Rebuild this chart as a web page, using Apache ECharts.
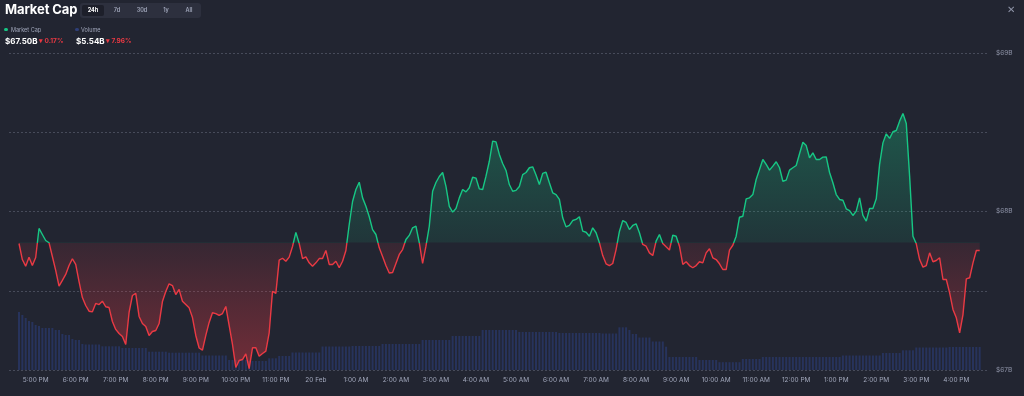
<!DOCTYPE html>
<html><head><meta charset="utf-8">
<script src="https://cdn.jsdelivr.net/npm/echarts@6/dist/echarts.min.js"></script>
<style>
html,body{margin:0;padding:0;background:#222531;width:1024px;height:396px;overflow:hidden;font-family:Inter,Roboto,sans-serif;}
#chart{position:absolute;left:0;top:0;width:1024px;height:396px;}
.abs{position:absolute;white-space:nowrap;}
#title{left:5px;top:1px;font-size:13px;font-weight:700;color:#fff;line-height:17px;letter-spacing:-0.1px;}
#tabs{left:80px;top:3px;width:121px;height:15px;background:#2d303e;border-radius:3px;}
.tab{position:absolute;top:2px;height:11px;line-height:11px;font-size:5.5px;color:#a1a7bb;text-align:center;font-weight:600;}
.tab.sel{background:#1d1f2a;color:#fff;border-radius:2px;font-weight:700;}
.lg{font-size:5.5px;color:#a1a7bb;line-height:8px;}
.dot{width:3.5px;height:3.5px;border-radius:50%;}
.val{font-size:8px;font-weight:700;color:#fff;line-height:10px;}
.chg{font-size:6.5px;font-weight:700;color:#ea3943;line-height:10px;}
#close{left:1007px;top:3px;font-size:10px;color:#8f94a8;line-height:12px;}
</style></head>
<body>
<div id="chart"></div>
<div class="abs" id="title">Market Cap</div>
<div class="abs" id="tabs">
  <div class="tab sel" style="left:2px;width:22px;">24h</div>
  <div class="tab" style="left:28px;width:18px;">7d</div>
  <div class="tab" style="left:52px;width:20px;">30d</div>
  <div class="tab" style="left:77px;width:18px;">1y</div>
  <div class="tab" style="left:100px;width:18px;">All</div>
</div>
<div class="abs dot" style="left:4px;top:27.5px;background:#16c784;"></div>
<div class="abs lg" style="left:11px;top:25.5px;">Market Cap</div>
<div class="abs dot" style="left:75px;top:27.5px;background:#2f3f78;"></div>
<div class="abs lg" style="left:81px;top:25.5px;">Volume</div>
<div class="abs val" style="left:5px;top:36px;">$67.50B</div>
<div class="abs chg" style="left:39px;top:36px;">&#9662; 0.17%</div>
<div class="abs val" style="left:76px;top:36px;">$5.54B</div>
<div class="abs chg" style="left:106px;top:36px;">&#9662; 7.96%</div>
<div class="abs" id="close">&#10005;</div>
<script>
// ---- data ----
const STEP_MIN = 5;            // minutes between points, starting 4:35 PM, 19 Feb
const FIRST_TICK_MIN = 25;     // 5:00 PM is 25 minutes after first point
const OPEN_VALUE = 67.804;     // market cap 24h ago (baseline), $B
const X_TICK_LABELS = ['5:00 PM','6:00 PM','7:00 PM','8:00 PM','9:00 PM','10:00 PM','11:00 PM','20 Feb','1:00 AM','2:00 AM','3:00 AM','4:00 AM','5:00 AM','6:00 AM','7:00 AM','8:00 AM','9:00 AM','10:00 AM','11:00 AM','12:00 PM','1:00 PM','2:00 PM','3:00 PM','4:00 PM'];
const Y_LABEL_VALUES = [67, 68, 69];
const Y_TICK_LABELS = ['$67B', '$68B', '$69B'];
// market cap, $B, every 5 minutes
const MARKET_CAP = [
67.798,67.697,67.655,67.712,67.659,67.710,67.893,67.855,67.817,67.803,
67.716,67.628,67.529,67.565,67.603,67.659,67.702,67.666,67.558,67.457,
67.407,67.371,67.367,67.420,67.413,67.434,67.399,67.394,67.306,67.256,
67.230,67.211,67.161,67.363,67.470,67.483,67.338,67.293,67.274,67.218,
67.243,67.249,67.293,67.432,67.495,67.544,67.533,67.476,67.508,67.434,
67.413,67.392,67.331,67.218,67.139,67.125,67.218,67.300,67.361,67.356,
67.344,67.356,67.401,67.281,67.161,67.016,67.060,67.066,67.102,67.009,
67.140,67.140,67.087,67.104,67.119,67.235,67.497,67.483,67.693,67.705,
67.686,67.712,67.779,67.868,67.798,67.703,67.714,67.676,67.655,67.676,
67.703,67.703,67.754,67.666,67.666,67.686,67.645,67.686,67.754,67.918,
68.063,68.139,68.185,68.086,68.033,67.967,67.886,67.855,67.771,67.716,
67.659,67.612,67.615,67.672,67.729,67.760,67.823,67.849,67.897,67.907,
67.803,67.672,67.781,67.907,68.128,68.183,68.221,68.246,68.158,68.032,
67.996,68.019,68.086,68.139,68.124,68.150,68.216,68.211,68.143,68.139,
68.223,68.317,68.444,68.439,68.360,68.303,68.259,68.170,68.128,68.133,
68.158,68.233,68.246,68.276,68.282,68.230,68.170,68.240,68.248,68.181,
68.118,68.107,68.076,67.960,67.903,67.912,67.943,67.950,67.967,67.876,
67.869,67.844,67.897,67.866,67.803,67.722,67.670,67.659,67.672,67.760,
67.874,67.943,67.931,67.886,67.912,67.922,67.866,67.792,67.781,67.739,
67.722,67.813,67.855,67.798,67.777,67.757,67.850,67.844,67.781,67.666,
67.683,67.659,67.645,67.659,67.683,67.676,67.739,67.765,67.708,67.697,
67.670,67.634,67.634,67.756,67.787,67.844,67.964,67.970,68.080,68.086,
68.107,68.202,68.265,68.328,68.297,68.261,68.286,68.314,68.276,68.191,
68.198,68.261,68.276,68.290,68.364,68.437,68.416,68.339,68.370,68.328,
68.328,68.343,68.344,68.246,68.181,68.107,68.076,68.071,68.017,68.006,
67.975,68.002,68.086,67.975,67.939,68.019,68.019,68.080,68.297,68.433,
68.490,68.461,68.503,68.511,68.570,68.618,68.555,68.223,67.844,67.796,
67.697,67.649,67.659,67.739,67.683,67.691,67.708,67.571,67.571,67.487,
67.382,67.329,67.235,67.350,67.575,67.582,67.676,67.754,67.754
];
// volume, $M, every 5 minutes
const VOLUME = [
58,55,52,49,48,45,44,42,42,42,
42,40,40,36,35,35,31,30,30,26,
25.5,25.5,25.5,25.5,25.5,23.7,23.7,23.7,23.7,23.7,
23.7,22,22,22,22,22,22,22,22,18.3,
18.3,18.3,18.3,18.3,18.3,17.3,17.3,17.3,17.3,17.3,
17.3,17.3,17.3,17.3,17.3,14.5,14.5,14.5,14.5,14.5,
14.5,14.5,14.5,10,10,10,10,10,10,9,
9,9,9,9,9,11.7,11.7,11.7,14,14,
14,14,17.5,17.5,17.5,17.5,17.5,17.5,17.5,17.5,
17.5,23.5,23.5,23.5,23.5,23.5,23.5,23.5,23.5,23.5,
24,24,24,24,24,24,24,24,24,26,
26,26,26,26,26,26,26,26,26,26,
26,30,30,30,30,30,30,30,30,30,
34,34,34,34,34,34,34,34,34,40,
40,40,40,40,40,40,40,40,40,40,
38,38,38,38,38,38,38,38,38,38,
38,38,37,37,37,37,37,37,37,37,
37,37,37,37,37,36.5,36.5,36.5,36.5,36.5,
42.7,42.7,42.7,40,36,36,32.5,32.5,32.5,32.5,
28.5,28.5,28.5,28.5,23.3,13,13,13,13,13,
13,13,13,13,10,10,10,10,10,10,
7.8,7.8,7.8,7.8,7.8,7.8,7.8,11,11,11,
11,11,11,13,13,13,13,13,13,13,
13,13,13,13,13,13,13,13,13,13,
13,13,13,13,13,13,13,14.5,14.5,14.5,
14.5,14.5,14.5,14.5,14.5,14.5,14.5,14.5,14.5,17,
17,17,17,17,17,19.7,19.7,19.7,19.7,22.5,
22.5,22.5,22.5,22.5,22.5,22.5,22.5,22.5,22.5,23,
23,23,23,23,23,23,23,23,23
];

// ---- chart ----
const GREEN = '#16c784', RED = '#ea3943';
const lineData = MARKET_CAP.map((v, i) => [i * STEP_MIN, v]);
const volData = VOLUME.map((v, i) => [i * STEP_MIN, v]);
const xTickValues = X_TICK_LABELS.map((_, k) => FIRST_TICK_MIN + 60 * k);

const chart = echarts.init(document.getElementById('chart'), null, {renderer: 'canvas'});
const option = {
  backgroundColor: '#222531',
  animation: false,
  grid: {left: 9, right: 37, top: 53, bottom: 26, containLabel: false},
  xAxis: {
    type: 'value', min: -15, max: 1451,
    axisLine: {show: false}, axisTick: {show: false}, splitLine: {show: false},
    axisLabel: {
      customValues: xTickValues,
      formatter: v => X_TICK_LABELS[Math.round((v - FIRST_TICK_MIN) / 60)] || '',
      color: '#a1a7bb', fontSize: 6.5, margin: 7, fontFamily: 'Inter'
    }
  },
  yAxis: [{
    type: 'value', position: 'right', min: 67, max: 69, interval: 0.5,
    axisLine: {show: false}, axisTick: {show: false},
    splitLine: {lineStyle: {color: '#474b5a', type: [2, 2], width: 1}},
    axisLabel: {
      customValues: Y_LABEL_VALUES,
      formatter: v => Y_TICK_LABELS[Y_LABEL_VALUES.indexOf(v)] || '',
      color: '#8f94a8', fontSize: 6.5, margin: 9, fontFamily: 'Inter'
    }
  }, {type: 'value', min: 0, max: 317, show: false}],
  series: [
    {type: 'bar', yAxisIndex: 1, data: volData, barWidth: 2, itemStyle: {color: '#27335c'}, z: 1, silent: true},
    {type: 'line', yAxisIndex: 0, data: lineData, showSymbol: false, smooth: false,
     lineStyle: {width: 1.4, color: RED}, areaStyle: {origin: OPEN_VALUE, color: 'rgba(234,57,67,0.2)'}, z: 3, silent: true}
  ]
};
chart.setOption(option);

const yTop = chart.convertToPixel({yAxisIndex: 0}, 69);
const yBot = chart.convertToPixel({yAxisIndex: 0}, 67);
const yBase = chart.convertToPixel({yAxisIndex: 0}, OPEN_VALUE);
const b = (yBase - yTop) / (yBot - yTop);
const grad = stops => ({type: 'linear', x: 0, y: yTop, x2: 0, y2: yBot, global: true, colorStops: stops});
chart.setOption({series: [{}, {
  lineStyle: {color: grad([
    {offset: 0, color: GREEN}, {offset: b, color: GREEN},
    {offset: b, color: RED}, {offset: 1, color: RED}])},
  areaStyle: {origin: OPEN_VALUE, opacity: 1, color: grad([
    {offset: 0, color: 'rgba(22,199,132,0.42)'}, {offset: b, color: 'rgba(22,199,132,0.10)'},
    {offset: b, color: 'rgba(234,57,67,0.10)'}, {offset: 1, color: 'rgba(234,57,67,0.40)'}])}
}]});
</script>
</body></html>
